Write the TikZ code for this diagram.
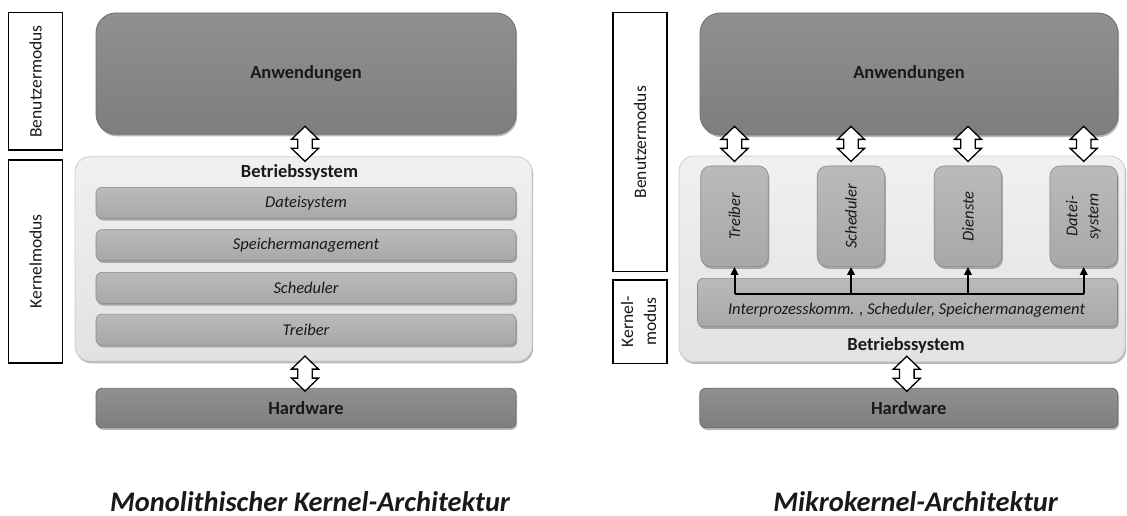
\documentclass[tikz,border=0pt]{standalone}
\usepackage{fontspec}
\setmainfont{Carlito}
\usetikzlibrary{shadows,calc,arrows.meta}

\definecolor{apptop}{RGB}{144,144,144}
\definecolor{appbot}{RGB}{126,126,126}
\definecolor{appedge}{RGB}{110,110,110}
\definecolor{ostop}{RGB}{240,240,240}
\definecolor{osbot}{RGB}{226,226,226}
\definecolor{osedge}{RGB}{205,205,205}
\definecolor{bartop}{RGB}{186,186,186}
\definecolor{barbot}{RGB}{168,168,168}
\definecolor{baredge}{RGB}{138,138,138}
\definecolor{inktext}{RGB}{25,25,25}

\begin{document}
\begin{tikzpicture}[x=1pt,y=-1pt,
  every node/.style={inner sep=0pt, text=inktext},
  softshadow/.style={drop shadow={shadow xshift=1.2pt, shadow yshift=-2.2pt, opacity=.28, fill=black}},
  modebox/.style={draw=black, line width=1.5pt, fill=white,
    font=\fontsize{17.5}{23}\selectfont},
  appbox/.style={rounded corners=20pt, top color=apptop, bottom color=appbot,
    draw=appedge, line width=.8pt, softshadow,
    font=\fontsize{18.5}{22}\selectfont\bfseries},
  osbox/.style={rounded corners=15pt, top color=ostop, bottom color=osbot,
    draw=osedge, line width=.8pt, softshadow},
  layerbar/.style={rounded corners=6pt, top color=bartop, bottom color=barbot,
    draw=baredge, line width=.6pt, softshadow,
    font=\fontsize{16.5}{21}\selectfont\itshape},
  hwbox/.style={rounded corners=6pt, top color=apptop, bottom color=appbot,
    draw=appedge, line width=.8pt, softshadow,
    font=\fontsize{18.5}{22}\selectfont\bfseries},
  modulebox/.style={rounded corners=10pt, top color=bartop, bottom color=barbot,
    draw=baredge, line width=.6pt, softshadow,
    minimum width=67.5pt, minimum height=100.7pt,
    font=\fontsize{16.5}{21}\selectfont\itshape},
  heading/.style={font=\fontsize{18.5}{22}\selectfont\bfseries},
  caption/.style={anchor=base, font=\fontsize{28.4}{32}\selectfont\bfseries\itshape},
  blockarrow/.style={draw=black, line width=1.3pt, fill=white, line join=miter},
  bus/.style={draw=black, line width=2pt},
  updown/.pic={\draw[blockarrow] (0,-17.5) -- (13.5,-4.5) -- (7.3,-4.5) -- (7.3,4.5)
     -- (13.5,4.5) -- (0,17.5) -- (-13.5,4.5) -- (-7.3,4.5) -- (-7.3,-4.5)
     -- (-13.5,-4.5) -- cycle;}
]
\useasboundingbox (0,0) rectangle (1127,516);

% ---------------- monolithic kernel ----------------
\node[modebox, minimum width=54.4pt, minimum height=137.3pt] (ben1) at (35.5,81.4)
  {\rotatebox{90}{Benutzermodus}};
\node[modebox, minimum width=54.4pt, minimum height=203pt] (ker1) at (35.5,261.5)
  {\rotatebox{90}{Kernelmodus}};

\node[appbox, minimum width=420pt, minimum height=121.3pt] (app1) at (306,73.6) {Anwendungen};
\node[osbox, minimum width=457pt, minimum height=204.3pt] (os1) at (303.5,258.9) {};
\node[heading] (os1t) at ($(os1.north)+(-4,16.3)$) {Betriebssystem};

\node[layerbar, minimum width=420pt, minimum height=31pt] (fs1) at (306,202.8) {Dateisystem};
\node[layerbar, minimum width=420pt, minimum height=31pt] (mm1) at (306,245.2) {Speichermanagement};
\node[layerbar, minimum width=420pt, minimum height=31pt] (sc1) at (306,287.8) {Scheduler};
\node[layerbar, minimum width=420pt, minimum height=31pt] (dr1) at (306,329.6) {Treiber};

\node[hwbox, minimum width=420pt, minimum height=39.4pt] (hw1) at (306,408) {Hardware};

\path (app1.south) ++(-1,9.2) pic {updown};
\path (hw1.north) ++(-1,-14.3) pic {updown};

\node[caption] (cap1) at (310,511) {Monolithischer Kernel-Architektur};

% ---------------- microkernel ----------------
\node[modebox, minimum width=54.2pt, minimum height=259pt] (ben2) at (640,142.2)
  {\rotatebox{90}{Benutzermodus}};
\node[modebox, minimum width=54.2pt, minimum height=83.3pt] (ker2) at (640,321.7)
  {\rotatebox{90}{\begin{tabular}{@{}c@{}}Kernel-\\modus\end{tabular}}};

\node[appbox, minimum width=418pt, minimum height=122pt] (app2) at (909,74) {Anwendungen};
\node[osbox, minimum width=446pt, minimum height=205.7pt] (os2) at (902,258.9) {};

\node[modulebox] (tr2) at (734.5,216.3) {\rotatebox{90}{Treiber}};
\node[modulebox] (sc2) at (851,216.3) {\rotatebox{90}{Scheduler}};
\node[modulebox] (di2) at (968,216.3) {\rotatebox{90}{Dienste}};
\node[modulebox] (fs2) at (1083.7,216.3)
  {\rotatebox{90}{\begin{tabular}{@{}c@{}}Datei-\\system\end{tabular}}};

\node[layerbar, minimum width=420pt, minimum height=48.4pt] (ipc) at (907.5,302.5) {};
\node[font=\fontsize{16.5}{21}\selectfont\itshape] (ipct) at ($(ipc.center)+(-1,7.5)$)
  {Interprozesskomm. , Scheduler, Speichermanagement};
\node[heading] (os2t) at ($(os2.south)+(4,-16.7)$) {Betriebssystem};

\node[hwbox, minimum width=418pt, minimum height=39.6pt] (hw2) at (908.8,408) {Hardware};

% message bus from the kernel to the user-level servers
\coordinate (bus) at ($(ipc.north)+(0,15.7)$);
\draw[bus] (bus -| tr2.south) -- (bus -| fs2.south);
\foreach \m in {tr2,sc2,di2,fs2}
  \draw[bus, -{Triangle[length=8pt,width=7.5pt]}] (bus -| \m.south) -- (\m.south);

\foreach \m in {tr2,sc2,di2,fs2}
  \path (\m.north |- app2.south) ++(0,8.5) pic {updown};
\path (hw2.north) ++(-2,-14) pic {updown};

\node[caption] (cap2) at (915.6,511) {Mikrokernel-Architektur};
\end{tikzpicture}
\end{document}
